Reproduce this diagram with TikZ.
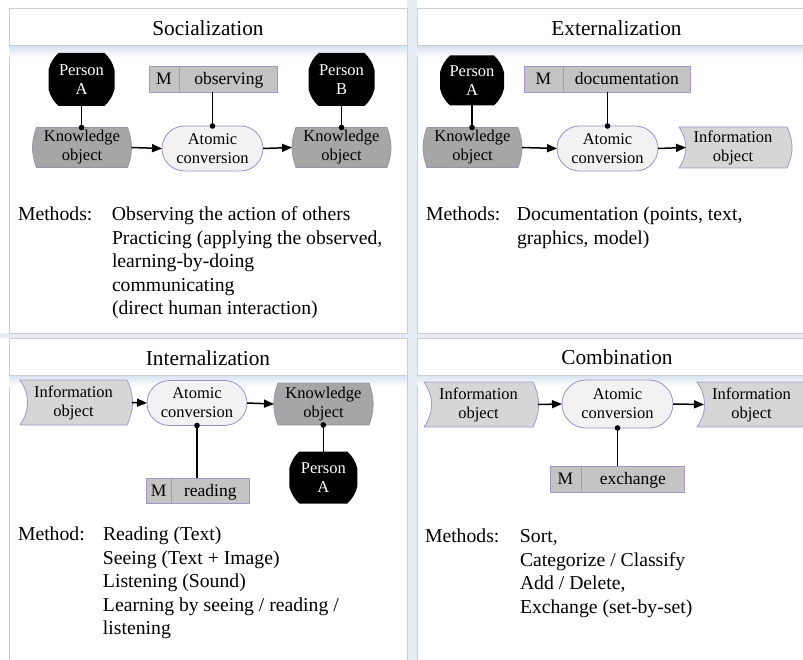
\documentclass[tikz,border=0pt]{standalone}
\usepackage{fontspec}
\setmainfont{Liberation Serif}
\usetikzlibrary{shapes.misc,shapes.multipart,arrows.meta,calc}
\pgfdeclarelayer{back}
\pgfdeclarelayer{bg}
\pgfsetlayers{back,bg,main}
\definecolor{kofill}{HTML}{A6A6A6}
\definecolor{kodraw}{HTML}{9A94A6}
\definecolor{iofill}{HTML}{D6D6D6}
\definecolor{iodraw}{HTML}{A597C5}
\definecolor{acfill}{HTML}{F2F2F2}
\definecolor{acdraw}{HTML}{A08FC4}
\definecolor{mfill}{HTML}{C3C3C3}
\definecolor{mdraw}{HTML}{A597C5}
\definecolor{panelline}{HTML}{CDCDCD}
\definecolor{gapblue}{HTML}{E6EDF6}
\definecolor{sepblue}{HTML}{D8E3F0}
\newcommand\mstrut{\rule[-4.5pt]{0pt}{20pt}}
\newcommand\personshape[1]{%
\fill[black] ([xshift=10pt]#1.north west) -- ([xshift=-10pt]#1.north east)
 .. controls ([xshift=-4.95pt,yshift=-4.65pt]#1.north east) and ([xshift=-1.61pt,yshift=-10.31pt]#1.north east) .. ([yshift=-17pt]#1.north east)
 -- ([yshift=17pt]#1.south east)
 .. controls ([xshift=-1.61pt,yshift=10.31pt]#1.south east) and ([xshift=-4.95pt,yshift=4.65pt]#1.south east) .. ([xshift=-10pt]#1.south east)
 -- ([xshift=10pt]#1.south west)
 .. controls ([xshift=4.95pt,yshift=4.65pt]#1.south west) and ([xshift=1.61pt,yshift=10.31pt]#1.south west) .. ([yshift=17pt]#1.south west)
 -- ([yshift=-17pt]#1.north west)
 .. controls ([xshift=1.61pt,yshift=-10.31pt]#1.north west) and ([xshift=4.95pt,yshift=-4.65pt]#1.north west) .. ([xshift=10pt]#1.north west) -- cycle;}
\newcommand\koshape[1]{%
\filldraw[fill=kofill,draw=kodraw,line width=0.8pt] (#1.north west) -- (#1.north east) to[bend left=20] (#1.south east) -- (#1.south west) to[bend left=20] (#1.north west) -- cycle;}
\newcommand\ioshape[1]{%
\filldraw[fill=iofill,draw=iodraw,line width=0.8pt] (#1.north west) -- (#1.north east) to[bend left=25] (#1.south east) -- (#1.south west) to[bend right=35] (#1.north west) -- cycle;}
\tikzset{
 every node/.style={inner sep=0pt,outer sep=0pt},
 nodefont/.style={font=\fontsize{16.5}{19}\selectfont},
 person/.style={nodefont,text=white,align=center,minimum width=66pt,minimum height=53pt},
 kobj/.style={nodefont,align=center,minimum width=91pt,minimum height=40pt},
 iobj/.style={nodefont,align=center,minimum width=108pt,minimum height=45pt},
 atomic/.style={rounded rectangle,draw=acdraw,fill=acfill,line width=0.8pt,nodefont,align=center,minimum width=101pt,minimum height=45pt},
 mbox/.style={rectangle split,rectangle split horizontal,rectangle split parts=2,draw=mdraw,fill=mfill,line width=0.8pt,font=\fontsize{17.5}{20}\selectfont,inner xsep=0pt,inner ysep=3pt,anchor=west},
 flow/.style={-{Triangle[length=10pt,width=8pt]},line width=1.5pt},
 attach/.style={-{Circle[length=5.5pt]},shorten >=-2.75pt,line width=1.5pt},
 paneltitle/.style={font=\fontsize{21.3}{25}\selectfont,anchor=base},
 methods/.style={font=\fontsize{19.7}{23.4}\selectfont,anchor=north west},
 panel/.style={draw=panelline,fill=white,line width=1pt},
}
\begin{document}
\begin{tikzpicture}[x=1pt,y=-1pt]
\useasboundingbox (0,0) rectangle (803,660);
\begin{pgfonlayer}{back}
\fill[white] (0,0) rectangle (803,660);
\fill[gapblue] (407,0) rectangle (417,660);
\fill[gapblue] (0,333) rectangle (803,338);
\draw[panel] (9,8.5) rectangle (407,333);
\draw[panel] (417,8.5) rectangle (830,333);
\draw[panel] (9,338) rectangle (407,680);
\draw[panel] (417,338) rectangle (830,680);
\shade[top color=sepblue,bottom color=white] (9.5,46.5) rectangle (406.5,57);
\shade[top color=sepblue,bottom color=white] (417.5,46.5) rectangle (803,57);
\shade[top color=sepblue,bottom color=white] (9.5,375.5) rectangle (406.5,386);
\shade[top color=sepblue,bottom color=white] (417.5,375.5) rectangle (803,386);
\draw[panelline,line width=1pt] (9,46) -- (407,46);
\draw[panelline,line width=1pt] (417,46) -- (830,46);
\draw[panelline,line width=1pt] (9,375) -- (407,375);
\draw[panelline,line width=1pt] (417,375) -- (830,375);
\end{pgfonlayer}

% titles
\node[paneltitle] (h1) at (208,35.5) {Socialization};
\node[paneltitle] (h2) at (616.5,36) {Externalization};
\node[paneltitle] (h3) at (208,365) {Internalization};
\node[paneltitle] (h4) at (617,364) {Combination};

% Socialization
\node[person] (pA1) at (81.5,79.5) {Person\\A};
\node[kobj] (ko1) at (82,147.5) {Knowledge\\object};
\node[atomic] (ac1) at (212.5,148.5) {Atomic\\conversion};
\node[mbox] (m1) at (149,79) {\makebox[30pt]{\mstrut M}\nodepart{two}\makebox[98pt]{\mstrut observing}};
\node[kobj] (ko2) at (341.5,147.5) {Knowledge\\object};
\node[person] (pB1) at (341.5,79.5) {Person\\B};
\draw[attach] (pA1.south) -- (pA1.south |- ko1.north);
\draw[attach] (pB1.south) -- (pB1.south |- ko2.north);
\draw[attach] (ac1.north |- m1.south) -- (ac1.north);
\draw[flow] ([xshift=4pt]ko1.east) -- (ac1.west);
\draw[flow] (ac1.east) -- ([xshift=-4pt]ko2.west);
\node[methods] (t1) at (18,204.6) {\begin{tabular}{@{}l@{}l@{}}\makebox[94pt][l]{Methods:} & Observing the action of others\\
 & Practicing (applying the observed,\\
 & learning-by-doing\\
 & communicating\\
 & (direct human interaction)\end{tabular}};

% Externalization
\node[person,minimum width=64pt,minimum height=50pt] (pA2) at (472,80.5) {Person\\A};
\node[kobj] (ko3) at (472.5,147.5) {Knowledge\\object};
\node[atomic] (ac2) at (607.5,148.5) {Atomic\\conversion};
\node[mbox] (m2) at (524,79) {\makebox[38.7pt]{\mstrut M}\nodepart{two}\makebox[126.6pt]{\mstrut documentation}};
\node[iobj,minimum height=41pt] (io1) at (733,147.5) {Information\\object};
\draw[attach] (pA2.south) -- (pA2.south |- ko3.north);
\draw[attach] (ac2.north |- m2.south) -- (ac2.north);
\draw[flow] ([xshift=4pt]ko3.east) -- (ac2.west);
\draw[flow] (ac2.east) -- ([xshift=7pt]io1.west);
\node[methods] (t2) at (426,204.6) {\begin{tabular}{@{}l@{}l@{}}\makebox[91pt][l]{Methods:} & Documentation (points, text,\\
 & graphics, model)\end{tabular}};

% Internalization
\node[iobj,minimum width=107pt] (io2) at (73.5,402.5) {Information\\object};
\node[atomic,minimum width=100pt] (ac3) at (197,403) {Atomic\\conversion};
\node[kobj,minimum height=42pt] (ko4) at (323.5,404) {Knowledge\\object};
\node[mbox,inner ysep=2.5pt] (m3) at (146.7,490.8) {\makebox[24pt]{\mstrut M}\nodepart{two}\makebox[77.6pt]{\mstrut reading}};
\node[person,minimum width=68pt,minimum height=52pt] (pA3) at (323.3,477.5) {Person\\A};
\draw[flow] ([xshift=5pt]io2.east) -- (ac3.west);
\draw[flow] (ac3.east) -- ([xshift=-4pt]ko4.west);
\draw[attach] (ac3.south |- m3.north) -- (ac3.south);
\draw[attach] (pA3.north) -- (pA3.north |- ko4.south);
\node[methods] (t3) at (18,524.6) {\begin{tabular}{@{}l@{}l@{}}\makebox[85pt][l]{Method:} & Reading (Text)\\
 & Seeing (Text + Image)\\
 & Listening (Sound)\\
 & Learning by seeing / reading /\\
 & listening\end{tabular}};

% Combination
\node[iobj,minimum width=109pt] (io3) at (478.5,404.5) {Information\\object};
\node[atomic,minimum width=111pt,minimum height=48pt] (ac4) at (617.5,404) {Atomic\\conversion};
\node[iobj,minimum width=109pt] (io4) at (751.5,404.5) {Information\\object};
\node[mbox] (m4) at (550,479) {\makebox[31pt]{\mstrut M}\nodepart{two}\makebox[102.3pt]{\mstrut exchange}};
\draw[flow] ([xshift=5pt]io3.east) -- (ac4.west);
\draw[flow] (ac4.east) -- ([xshift=7pt]io4.west);
\draw[attach] (ac4.south |- m4.north) -- (ac4.south);
\node[methods] (t4) at (425,526.6) {\begin{tabular}{@{}l@{}l@{}}\makebox[95pt][l]{Methods:} & Sort,\\
 & Categorize / Classify\\
 & Add / Delete,\\
 & Exchange (set-by-set)\end{tabular}};

\begin{pgfonlayer}{bg}
\personshape{pA1}
\personshape{pB1}
\personshape{pA2}
\personshape{pA3}
\koshape{ko1}
\koshape{ko2}
\koshape{ko3}
\koshape{ko4}
\ioshape{io1}
\ioshape{io2}
\ioshape{io3}
\ioshape{io4}
\end{pgfonlayer}
\end{tikzpicture}
\end{document}
